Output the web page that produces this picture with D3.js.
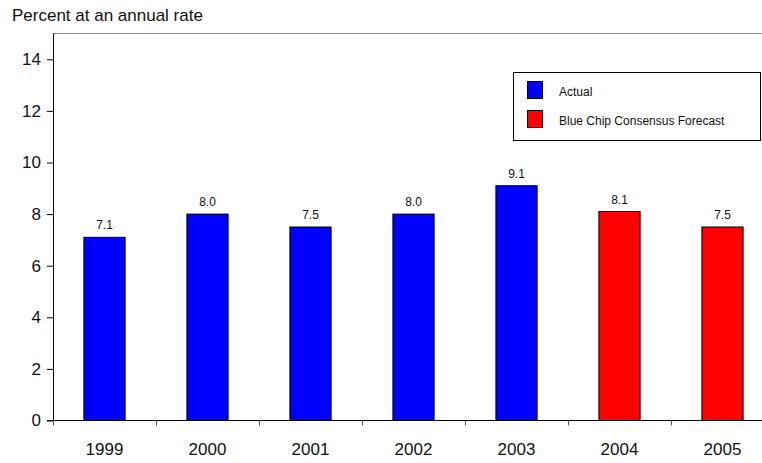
<!DOCTYPE html>
<html>
<head>
<meta charset="utf-8">
<script src="https://cdn.jsdelivr.net/npm/d3@7"></script>
<style>
  html, body { margin: 0; padding: 0; background: #fff; }
  svg { display: block; font-family: Arial, "Liberation Sans", sans-serif; }
</style>
</head>
<body>
<svg id="chart" width="762" height="463"></svg>
<script>
// Growth figures by year; the last two are forecasts
const years = ["1999", "2000", "2001", "2002", "2003", "2004", "2005"];
const values = [7.1, 8.0, 7.5, 8.0, 9.1, 8.1, 7.5];
const kinds = ["actual", "actual", "actual", "actual", "actual", "forecast", "forecast"];
const yTicks = [0, 2, 4, 6, 8, 10, 12, 14];
const legendLabels = ["Actual", "Blue Chip Consensus Forecast"];

const colors = { actual: "#0000ff", forecast: "#ff0000" };

const svg = d3.select("#chart");
const plotLeft = 53, plotRight = 774, plotTop = 33.5, plotBottom = 420.5;

const x = d3.scaleBand().domain(years).range([plotLeft, plotRight])
  .paddingInner(0.6).paddingOuter(0.3);
const step = x.step();
const y = d3.scaleLinear().domain([0, 15]).range([plotBottom, plotTop]);

// Title
svg.append("text").attr("x", 12).attr("y", 21)
  .attr("font-size", 17).attr("fill", "#111")
  .text("Percent at an annual rate");

// Top frame line
svg.append("line")
  .attr("x1", plotLeft).attr("x2", 762).attr("y1", plotTop).attr("y2", plotTop)
  .attr("stroke", "#888").attr("stroke-width", 1);

// Bars
svg.append("g").selectAll("rect").data(years).join("rect")
  .attr("x", d => x(d))
  .attr("y", (d, i) => y(values[i]))
  .attr("width", x.bandwidth())
  .attr("height", (d, i) => y(0) - y(values[i]))
  .attr("fill", (d, i) => colors[kinds[i]])
  .attr("stroke", "#000").attr("stroke-width", 1);

// Value labels
svg.append("g").selectAll("text").data(years).join("text")
  .attr("x", d => x(d) + x.bandwidth() / 2)
  .attr("y", (d, i) => y(values[i]) - 8)
  .attr("text-anchor", "middle")
  .attr("font-size", 12).attr("fill", "#111")
  .text((d, i) => values[i].toFixed(1));

// Y axis
const yAxis = svg.append("g").attr("transform", `translate(${plotLeft},0)`)
  .call(d3.axisLeft(y).tickValues(yTicks).tickSize(6).tickSizeOuter(0).tickFormat(d3.format("d")));
yAxis.select(".domain").attr("stroke", "#000").attr("d", `M0.5,${plotTop}V${plotBottom}`);
yAxis.selectAll(".tick line").attr("stroke", "#000");
yAxis.selectAll(".tick text").attr("font-size", 17).attr("fill", "#111")
  .attr("font-family", "Arial, 'Liberation Sans', sans-serif").attr("x", -12);

// X axis: ticks at category boundaries
const xAxis = svg.append("g").attr("transform", `translate(0,${plotBottom})`);
xAxis.append("line").attr("x1", plotLeft - 6).attr("x2", 762)
  .attr("y1", 0).attr("y2", 0).attr("stroke", "#000");
const bounds = d3.range(years.length + 1).map(i => plotLeft + i * step);
xAxis.selectAll("line.tk").data(bounds).join("line").attr("class", "tk")
  .attr("x1", d => Math.round(d) + 0.5).attr("x2", d => Math.round(d) + 0.5)
  .attr("y1", 0).attr("y2", 5).attr("stroke", "#555");
xAxis.selectAll("text").data(years).join("text")
  .attr("x", d => x(d) + x.bandwidth() / 2)
  .attr("y", 34)
  .attr("text-anchor", "middle")
  .attr("font-size", 17).attr("fill", "#111")
  .text(d => d);

// Legend
const lg = svg.append("g");
lg.append("rect").attr("x", 513.5).attr("y", 72.5).attr("width", 247).attr("height", 68)
  .attr("fill", "#fff").attr("stroke", "#000").attr("stroke-width", 1);
const lkeys = ["actual", "forecast"];
lkeys.forEach((k, i) => {
  lg.append("rect").attr("x", 527.5).attr("y", 81.5 + i * 29).attr("width", 15).attr("height", 17)
    .attr("fill", colors[k]).attr("stroke", "#000");
  lg.append("text").attr("x", 559).attr("y", 96 + i * 29)
    .attr("font-size", 12).attr("fill", "#111")
    .text(legendLabels[i]);
});
</script>
</body>
</html>
